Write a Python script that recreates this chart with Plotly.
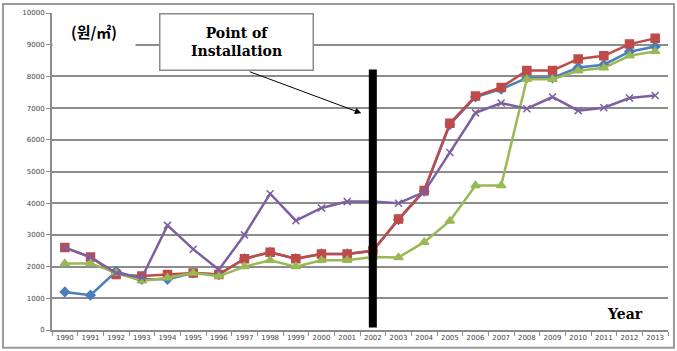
import plotly.graph_objects as go

years = [str(y) for y in range(1990, 2014)]
blue = [1200, 1100, 1850, 1600, 1600, 1800, 1750, 2250, 2450, 2250, 2400, 2400, 2500, 3480, 4380, 6480, 7350, 7600, 7950, 7950, 8280, 8370, 8780, 8940]
red = [2600, 2300, 1750, 1700, 1750, 1800, 1750, 2250, 2450, 2250, 2400, 2400, 2500, 3500, 4400, 6520, 7380, 7650, 8190, 8190, 8550, 8650, 9020, 9200]
green = [2100, 2100, 1800, 1550, 1650, 1800, 1700, 2000, 2200, 2000, 2200, 2200, 2300, 2290, 2770, 3440, 4560, 4560, 7910, 7910, 8180, 8270, 8650, 8790]
purple = [2600, 2300, 1800, 1650, 3300, 2550, 1900, 3000, 4300, 3450, 3850, 4050, 4050, 4000, 4350, 5600, 6850, 7160, 6980, 7350, 6920, 7010, 7320, 7400]
y_ticks = list(range(0, 10001, 1000))
y_labels = [str(v) for v in y_ticks]
install_year = "2002"
install_span = [80, 8220]

fig = go.Figure()
series = [
    (blue, "#4A7EBB", "diamond", 7),
    (red, "#BE4B48", "square", 8),
    (green, "#98B954", "triangle-up", 8),
    (purple, "#7D60A0", "x-thin-open", 7),
]
for vals, col, sym, sz in series:
    fig.add_trace(go.Scatter(
        x=years, y=vals, mode="lines+markers",
        line=dict(color=col, width=2.5),
        marker=dict(symbol=sym, size=sz, color=col, line=dict(color=col, width=1.5)),
        showlegend=False,
    ))

fig.add_trace(go.Scatter(
    x=[install_year, install_year], y=install_span, mode="lines",
    line=dict(color="black", width=8), showlegend=False,
))

fig.update_layout(
    width=677, height=351,
    margin=dict(l=52, r=9, t=11, b=20),
    paper_bgcolor="white", plot_bgcolor="white",
    xaxis=dict(
        type="category", categoryorder="array", categoryarray=years,
        showgrid=False, showline=True, linecolor="#8c8c8c", linewidth=2,
        ticks="outside", tickson="boundaries", ticklen=4, tickcolor="#8c8c8c",
        tickangle=0,
        tickfont=dict(family="DejaVu Sans", size=7, color="#444"),
        range=[-0.5, 23.5],
    ),
    yaxis=dict(
        range=[0, 10000], tickvals=y_ticks, ticktext=y_labels,
        showgrid=True, gridcolor="#8c8c8c", gridwidth=2,
        showline=True, linecolor="#8c8c8c", linewidth=2,
        ticks="outside", ticklen=4, tickcolor="#8c8c8c",
        tickfont=dict(family="DejaVu Sans", size=7, color="#444"),
        zeroline=False,
    ),
    shapes=[dict(type="rect", xref="paper", yref="paper",
                 x0=-0.0795, x1=1.0097, y0=-0.056, y1=1.028,
                 line=dict(color="#9a9a9a", width=2), fillcolor="rgba(0,0,0,0)", layer="below")],
)

fig.add_annotation(
    xref="paper", yref="paper", x=0.0, y=0.997, xanchor="left", yanchor="top",
    text="<b>(원/㎡)</b>", showarrow=False,
    font=dict(family="Noto Sans CJK KR", size=15, color="black"),
    bgcolor="white", width=80, height=31, align="center",
)
fig.add_annotation(
    xref="paper", yref="paper", x=0.300, y=0.909, xanchor="center", yanchor="middle",
    text="<b>Point of<br>Installation</b>", showarrow=False,
    font=dict(family="DejaVu Serif", size=14, color="black"),
    bgcolor="white", bordercolor="#8a8a8a", borderwidth=1.5,
    width=150, height=53, align="center",
)
fig.add_annotation(
    x=11.55, y=6840, xref="x", yref="y",
    ax=-113, ay=-42, axref="pixel", ayref="pixel",
    text="", showarrow=True, arrowhead=2, arrowsize=1.3, arrowwidth=1, arrowcolor="black",
)
fig.add_annotation(
    xref="paper", yref="paper", x=0.93, y=0.05, xanchor="center", yanchor="middle",
    text="<b>Year</b>", showarrow=False,
    font=dict(family="DejaVu Serif", size=14, color="black"),
)

fig.write_html("out.html")
